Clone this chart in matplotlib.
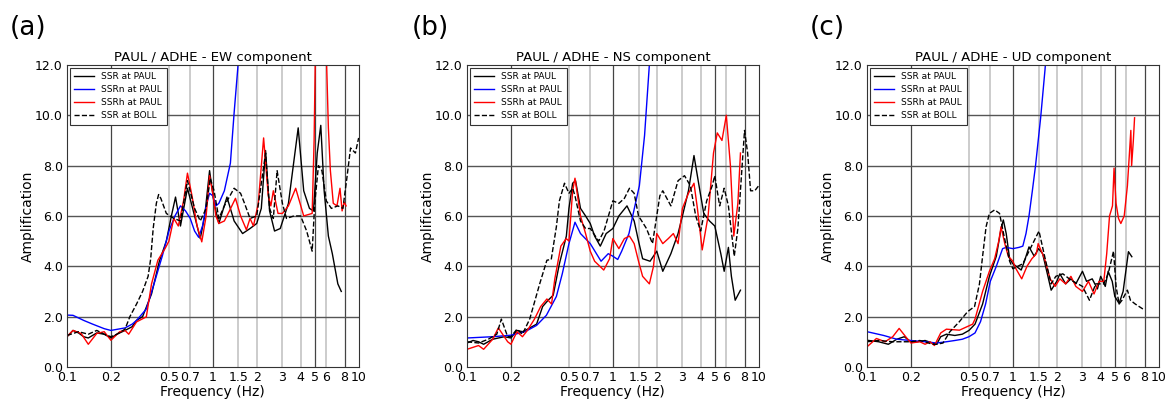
import matplotlib
matplotlib.use("Agg")
import matplotlib.pyplot as plt
from matplotlib.ticker import FixedLocator, FixedFormatter, NullLocator

# ---- EW component ----
ew_paul_f = [0.10, 0.11, 0.12, 0.13, 0.14, 0.16, 0.18, 0.20, 0.22, 0.25, 0.28, 0.30, 0.33, 0.38, 0.43,
             0.48, 0.52, 0.555, 0.60, 0.67, 0.75, 0.82, 0.88, 0.95, 1.02, 1.10, 1.25, 1.40, 1.60, 1.80,
             2.00, 2.15, 2.30, 2.45, 2.65, 2.90, 3.30, 3.60, 3.85, 4.20, 4.60, 4.90, 5.20, 5.50, 5.80,
             6.20, 6.60, 7.20, 7.60]
ew_paul_a = [1.20, 1.45, 1.35, 1.20, 1.15, 1.35, 1.30, 1.15, 1.30, 1.45, 1.60, 1.85, 2.00, 2.90, 4.20,
             5.00, 6.00, 6.75, 5.60, 7.10, 6.00, 5.10, 6.00, 7.80, 6.50, 5.70, 6.75, 5.80, 5.30, 5.50,
             5.70, 6.30, 8.60, 6.20, 5.40, 5.50, 6.50, 8.20, 9.50, 7.00, 6.30, 6.20, 8.50, 9.60, 7.00,
             5.20, 4.50, 3.30, 3.00]

ew_paul_n_f = [0.10, 0.11, 0.13, 0.15, 0.18, 0.20, 0.25, 0.28, 0.30, 0.35, 0.40, 0.45, 0.50, 0.55, 0.60,
               0.65, 0.70, 0.75, 0.80, 0.85, 0.90, 0.95, 1.00, 1.05, 1.10, 1.20, 1.32, 1.40, 1.48, 1.56]
ew_paul_n_a = [2.06, 2.05, 1.85, 1.70, 1.52, 1.45, 1.55, 1.70, 1.85, 2.30, 3.40, 4.40, 5.40, 6.00, 6.40,
               6.20, 5.90, 5.40, 5.15, 5.60, 6.40, 6.90, 6.80, 6.40, 6.50, 7.00, 8.10, 10.1, 11.8, 13.5]

ew_paul_h_f = [0.10, 0.11, 0.125, 0.14, 0.16, 0.18, 0.20, 0.23, 0.25, 0.265, 0.28, 0.30, 0.35, 0.38, 0.42,
               0.47, 0.50, 0.54, 0.58, 0.63, 0.67, 0.72, 0.78, 0.84, 0.90, 0.95, 1.00, 1.05, 1.10, 1.20,
               1.30, 1.43, 1.55, 1.70, 1.80, 1.90, 2.05, 2.23, 2.40, 2.50, 2.60, 2.80, 3.00, 3.30, 3.70,
               4.20, 4.80, 4.95, 5.05, 5.30, 5.80, 6.00, 6.20, 6.40, 6.70, 7.10, 7.45, 7.70, 7.95, 8.20]
ew_paul_h_a = [1.20, 1.45, 1.33, 0.90, 1.33, 1.40, 1.06, 1.40, 1.45, 1.30, 1.52, 1.79, 1.99, 3.30, 4.24,
               4.70, 5.00, 5.90, 5.60, 6.60, 7.70, 6.80, 5.60, 4.97, 6.00, 7.60, 6.90, 6.00, 5.70, 5.80,
               6.20, 6.70, 6.00, 5.45, 5.90, 5.60, 6.50, 9.10, 6.80, 6.40, 7.00, 6.10, 6.10, 6.40, 7.10,
               6.00, 6.10, 9.00, 12.5, 15.0, 15.0, 12.5, 9.50, 7.80, 6.50, 6.40, 7.10, 6.20, 6.55, 6.40]

ew_boll_f = [0.10, 0.12, 0.14, 0.16, 0.18, 0.20, 0.22, 0.25, 0.27, 0.30, 0.33, 0.36, 0.375, 0.39, 0.41,
             0.425, 0.44, 0.48, 0.54, 0.60, 0.67, 0.75, 0.82, 0.90, 0.96, 1.02, 1.10, 1.20, 1.40, 1.55,
             1.65, 1.80, 2.00, 2.30, 2.45, 2.60, 2.76, 3.00, 3.20, 3.60, 4.00, 4.40, 4.80, 5.00, 5.30,
             5.60, 6.00, 6.50, 7.20, 7.80, 8.30, 8.80, 9.50, 10.0]
ew_boll_a = [1.25, 1.40, 1.30, 1.45, 1.30, 1.20, 1.30, 1.50, 2.00, 2.50, 3.00, 3.60, 4.30, 5.50, 6.50,
             6.85, 6.70, 6.10, 5.90, 5.80, 7.40, 6.30, 5.80, 6.30, 7.50, 7.00, 5.90, 6.40, 7.10, 6.90,
             6.50, 5.90, 6.00, 8.50, 6.30, 5.90, 7.80, 6.50, 5.90, 6.00, 6.00, 5.40, 4.60, 6.50, 8.00,
             7.80, 6.60, 6.30, 6.40, 6.30, 7.50, 8.70, 8.50, 9.10]

# ---- NS component ----
ns_paul_f = [0.10, 0.11, 0.12, 0.13, 0.15, 0.18, 0.20, 0.22, 0.24, 0.26, 0.30, 0.33, 0.36, 0.39, 0.43,
             0.48, 0.50, 0.53, 0.555, 0.60, 0.65, 0.70, 0.75, 0.82, 0.90, 1.00, 1.10, 1.25, 1.40, 1.50,
             1.60, 1.80, 2.00, 2.20, 2.50, 2.80, 3.00, 3.30, 3.60, 3.90, 4.20, 4.60, 5.00, 5.50, 5.80,
             6.20, 6.50, 6.90, 7.50]
ns_paul_a = [0.95, 1.05, 1.00, 0.90, 1.10, 1.20, 1.15, 1.45, 1.40, 1.50, 1.70, 2.40, 2.65, 2.85, 4.10,
             5.20, 6.30, 7.30, 7.40, 6.30, 6.00, 5.70, 5.20, 4.80, 5.30, 5.50, 6.00, 6.40, 5.80, 5.00,
             4.30, 4.20, 4.60, 3.80, 4.50, 5.30, 6.00, 7.00, 8.40, 7.20, 6.10, 5.80, 5.60, 4.50, 3.80,
             4.75, 3.60, 2.65, 3.05]

ns_paul_n_f = [0.10, 0.15, 0.20, 0.25, 0.30, 0.35, 0.41, 0.45, 0.50, 0.55, 0.60, 0.70, 0.83, 0.93, 1.00,
               1.08, 1.15, 1.29, 1.38, 1.52, 1.65, 1.77, 1.85]
ns_paul_n_a = [1.15, 1.20, 1.26, 1.40, 1.65, 2.05, 2.80, 3.70, 4.90, 5.75, 5.30, 4.90, 4.20, 4.50, 4.40,
               4.27, 4.60, 5.30, 6.10, 7.20, 9.20, 11.8, 13.5]

ns_paul_h_f = [0.10, 0.12, 0.13, 0.15, 0.164, 0.19, 0.20, 0.22, 0.24, 0.26, 0.29, 0.32, 0.353, 0.38, 0.40,
               0.44, 0.479, 0.50, 0.53, 0.55, 0.60, 0.65, 0.70, 0.75, 0.866, 0.95, 1.00, 1.10, 1.20, 1.30,
               1.40, 1.50, 1.60, 1.78, 1.90, 2.00, 2.20, 2.40, 2.60, 2.80, 3.00, 3.30, 3.60, 3.80, 4.10,
               4.50, 4.90, 5.20, 5.60, 6.00, 6.40, 6.75, 7.20, 7.50]
ns_paul_h_a = [0.70, 0.85, 0.70, 1.10, 1.55, 1.00, 0.90, 1.40, 1.20, 1.46, 1.90, 2.40, 2.70, 2.50, 3.50,
               4.80, 5.10, 5.00, 7.00, 7.50, 6.00, 5.30, 4.60, 4.20, 3.85, 4.30, 5.10, 4.70, 5.10, 5.20,
               4.90, 4.20, 3.60, 3.30, 4.00, 5.30, 4.90, 5.10, 5.30, 4.90, 6.30, 6.90, 7.30, 6.30, 4.65,
               6.00, 8.50, 9.30, 9.00, 10.0, 8.00, 5.20, 6.50, 8.50]

ns_boll_f = [0.10, 0.12, 0.14, 0.16, 0.172, 0.19, 0.20, 0.22, 0.24, 0.269, 0.315, 0.353, 0.378, 0.41, 0.43,
             0.466, 0.50, 0.53, 0.55, 0.60, 0.65, 0.70, 0.80, 0.87, 1.00, 1.10, 1.20, 1.30, 1.40, 1.50,
             1.70, 1.87, 2.10, 2.20, 2.50, 2.80, 3.10, 3.40, 3.70, 4.00, 4.40, 4.80, 5.00, 5.40, 5.80,
             6.20, 6.80, 7.20, 7.70, 8.00, 8.40, 8.80, 9.40, 10.0]
ns_boll_a = [1.00, 0.95, 1.10, 1.30, 1.90, 1.20, 1.20, 1.50, 1.30, 1.90, 3.30, 4.24, 4.27, 5.57, 6.60,
             7.30, 6.90, 7.10, 6.80, 5.80, 5.50, 5.50, 5.00, 5.40, 6.60, 6.50, 6.70, 7.10, 6.90, 6.00,
             5.50, 4.90, 6.80, 7.00, 6.40, 7.40, 7.60, 7.20, 6.00, 5.40, 6.60, 7.20, 7.60, 6.40, 7.10,
             6.40, 4.40, 5.50, 8.00, 9.40, 8.50, 7.00, 7.00, 7.20]

# ---- UD component ----
ud_paul_f = [0.10, 0.12, 0.14, 0.16, 0.18, 0.20, 0.22, 0.25, 0.28, 0.30, 0.32, 0.35, 0.40, 0.45, 0.50,
             0.55, 0.62, 0.69, 0.77, 0.83, 0.86, 0.90, 0.95, 1.00, 1.14, 1.20, 1.29, 1.40, 1.50, 1.60,
             1.83, 2.00, 2.10, 2.30, 2.50, 2.70, 3.00, 3.20, 3.50, 3.80, 4.00, 4.30, 4.50, 4.80, 5.00,
             5.35, 5.70, 6.20, 6.54]
ud_paul_a = [1.06, 1.00, 0.90, 1.10, 1.20, 1.00, 1.00, 1.05, 0.95, 0.90, 1.20, 1.30, 1.25, 1.30, 1.45,
             1.70, 2.50, 3.60, 4.40, 5.50, 5.84, 5.30, 4.30, 4.10, 3.85, 4.20, 4.77, 4.40, 4.70, 4.50,
             3.05, 3.40, 3.70, 3.30, 3.50, 3.30, 3.80, 3.40, 3.50, 3.10, 3.60, 3.20, 3.80, 3.40, 2.80,
             2.52, 3.00, 4.58, 4.38]

ud_paul_n_f = [0.10, 0.13, 0.16, 0.20, 0.25, 0.30, 0.35, 0.40, 0.45, 0.50, 0.55, 0.60, 0.65, 0.70, 0.77,
               0.85, 0.90, 1.00, 1.10, 1.17, 1.23, 1.29, 1.36, 1.43, 1.55, 1.66, 1.75]
ud_paul_n_a = [1.40, 1.25, 1.10, 1.05, 1.00, 0.95, 1.00, 1.05, 1.10, 1.20, 1.35, 1.80, 2.50, 3.40, 4.00,
               4.70, 4.75, 4.70, 4.75, 4.80, 5.30, 6.00, 7.00, 8.00, 9.90, 11.8, 13.5]

ud_paul_h_f = [0.10, 0.116, 0.133, 0.15, 0.166, 0.19, 0.20, 0.23, 0.25, 0.27, 0.29, 0.32, 0.35, 0.43, 0.53,
               0.55, 0.62, 0.69, 0.75, 0.80, 0.83, 0.88, 0.93, 1.00, 1.05, 1.15, 1.25, 1.35, 1.45, 1.49,
               1.65, 1.80, 1.95, 2.10, 2.30, 2.50, 2.70, 3.00, 3.30, 3.60, 3.90, 4.20, 4.40, 4.60, 4.82,
               4.94, 5.10, 5.30, 5.50, 5.80, 6.10, 6.30, 6.44, 6.52, 6.70, 6.83]
ud_paul_h_a = [0.80, 1.13, 1.00, 1.20, 1.53, 1.10, 0.95, 1.00, 0.90, 1.00, 0.85, 1.35, 1.50, 1.46, 1.70,
               1.90, 3.00, 3.80, 4.30, 5.00, 5.57, 4.90, 4.40, 4.20, 3.90, 3.50, 4.00, 4.30, 4.50, 4.90,
               4.30, 3.50, 3.20, 3.50, 3.30, 3.60, 3.20, 3.00, 3.40, 2.90, 3.40, 3.40, 4.50, 6.00, 6.40,
               7.90, 6.50, 5.90, 5.70, 6.00, 7.20, 8.50, 9.40, 8.00, 9.00, 9.90]

ud_boll_f = [0.10, 0.12, 0.15, 0.18, 0.20, 0.23, 0.25, 0.28, 0.30, 0.332, 0.37, 0.43, 0.49, 0.546, 0.59,
             0.62, 0.655, 0.69, 0.75, 0.81, 0.87, 0.95, 1.00, 1.08, 1.17, 1.29, 1.51, 1.68, 1.83, 1.97,
             2.20, 2.50, 3.00, 3.35, 3.70, 4.20, 4.50, 4.90, 5.10, 5.35, 5.60, 6.10, 6.40, 6.90, 7.80]
ud_boll_a = [1.00, 1.05, 1.00, 1.00, 1.00, 1.05, 1.00, 0.90, 0.90, 0.95, 1.40, 1.80, 2.20, 2.40, 3.30,
             4.40, 5.57, 6.10, 6.24, 6.10, 5.20, 4.20, 3.90, 4.00, 4.10, 4.60, 5.40, 4.20, 3.30, 3.60,
             3.70, 3.45, 3.20, 2.65, 3.30, 3.30, 3.70, 4.60, 3.20, 2.50, 2.65, 3.05, 2.65, 2.50, 2.30]

panel_tags = ["(a)", "(b)", "(c)"]
components = ["EW", "NS", "UD"]
series = [
    (ew_paul_f, ew_paul_a, ew_paul_n_f, ew_paul_n_a, ew_paul_h_f, ew_paul_h_a, ew_boll_f, ew_boll_a),
    (ns_paul_f, ns_paul_a, ns_paul_n_f, ns_paul_n_a, ns_paul_h_f, ns_paul_h_a, ns_boll_f, ns_boll_a),
    (ud_paul_f, ud_paul_a, ud_paul_n_f, ud_paul_n_a, ud_paul_h_f, ud_paul_h_a, ud_boll_f, ud_boll_a),
]

xtick_vals = [0.1, 0.2, 0.5, 0.7, 1, 1.5, 2, 3, 4, 5, 6, 8, 10]
xtick_labels = ["0.1", "0.2", "0.5", "0.7", "1", "1.5", "2", "3", "4", "5", "6", "8", "10"]
dark_grid = [0.2, 1, 5, 8]
light_grid = [0.5, 0.7, 1.5, 2, 3, 4, 6]
ytick_vals = [0, 2, 4, 6, 8, 10, 12]

fig = plt.figure(figsize=(11.69, 4.01), dpi=100)
lefts = [0.0573, 0.3995, 0.7417]
tag_x = [0.008, 0.352, 0.693]

for i in range(3):
    ax = fig.add_axes([lefts[i], 0.085, 0.2495, 0.753])
    pf, pa, nf, na, hf, ha, bf, ba = series[i]

    for g in light_grid:
        ax.axvline(g, color="#c8c8c8", lw=1.3, zorder=0)
    for g in dark_grid:
        ax.axvline(g, color="#444444", lw=0.9, zorder=0)
    for g in ytick_vals[1:-1]:
        ax.axhline(g, color="#555555", lw=1.0, zorder=0)

    ax.plot(pf, pa, "k-", lw=1.0, label="SSR at PAUL")
    ax.plot(nf, na, "b-", lw=1.0, label="SSRn at PAUL")
    ax.plot(hf, ha, "r-", lw=1.0, label="SSRh at PAUL")
    ax.plot(bf, ba, "k--", lw=1.0, label="SSR at BOLL")

    ax.set_xscale("log")
    ax.set_xlim(0.1, 10)
    ax.set_ylim(0, 12)
    ax.xaxis.set_major_locator(FixedLocator(xtick_vals))
    ax.xaxis.set_major_formatter(FixedFormatter(xtick_labels))
    ax.xaxis.set_minor_locator(NullLocator())
    ax.set_yticks(ytick_vals)
    ax.set_yticklabels(["%.1f" % v for v in ytick_vals])
    ax.tick_params(labelsize=9, length=0, pad=3)
    for s in ax.spines.values():
        s.set_color("#333333")
        s.set_linewidth(0.8)

    ax.set_title("PAUL / ADHE - %s component" % components[i], fontsize=9.5, pad=3)
    ax.set_xlabel("Frequency (Hz)", fontsize=10, labelpad=1)
    ax.set_ylabel("Amplification", fontsize=10, labelpad=0)

    leg = ax.legend(loc="upper left", fontsize=6.5, handlelength=2.2, labelspacing=0.45,
                    borderpad=0.5, fancybox=False, framealpha=1, borderaxespad=0.3)
    leg.get_frame().set_edgecolor("#333333")
    leg.get_frame().set_linewidth(0.8)

    fig.text(tag_x[i], 0.93, panel_tags[i], fontsize=19, va="center")

fig.savefig("out.png", dpi=100)
